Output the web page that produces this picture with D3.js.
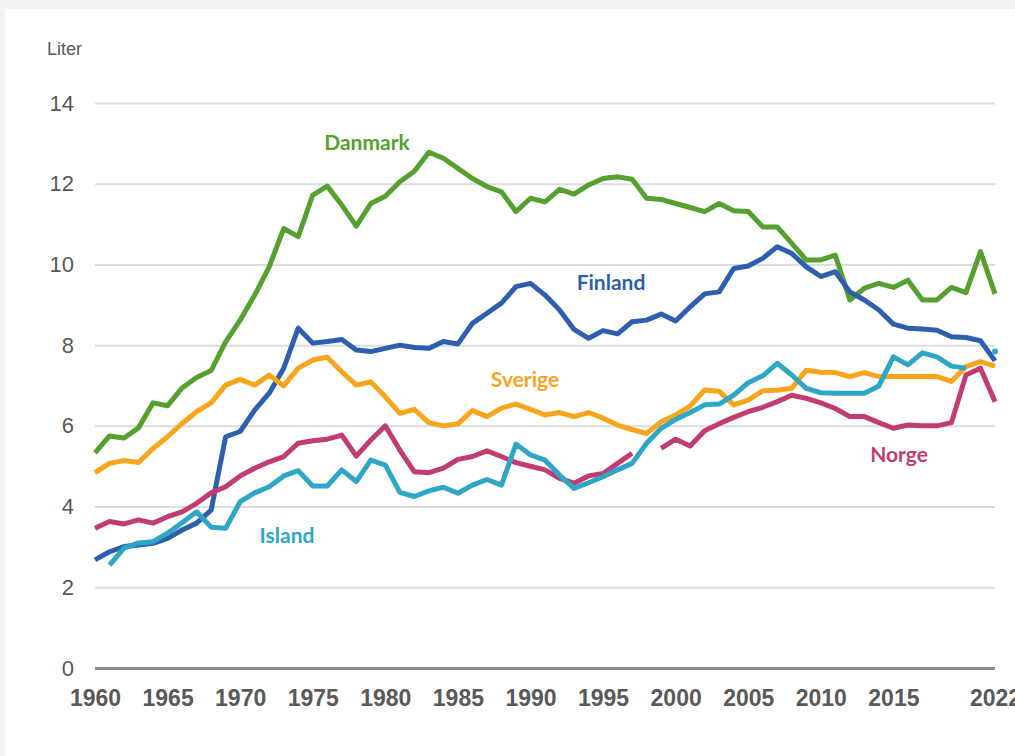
<!DOCTYPE html>
<html>
<head>
<meta charset="utf-8">
<script src="https://cdn.jsdelivr.net/npm/d3@7"></script>
<style>
  body { margin: 0; background: #f3f3f3; }
  svg { display: block; }
</style>
</head>
<body>
<svg id="chart"></svg>
<script>
var width = 1015;
var height = 756;
var margin = {top: 103, bottom: 88, left: 95, right: 20};

var years = d3.range(1960, 2023);
var xTicks = [1960, 1965, 1970, 1975, 1980, 1985, 1990, 1995, 2000, 2005, 2010, 2015, 2022];
var yTicks = [0, 2, 4, 6, 8, 10, 12, 14];

// Liter per year, 1960-2022 (null = no value)
var danmark = [5.33, 5.75, 5.7, 5.95, 6.57, 6.5, 6.94, 7.2, 7.37, 8.08, 8.62, 9.24, 9.94, 10.89, 10.69, 11.72, 11.94, 11.47, 10.95, 11.51,
  11.69, 12.05, 12.31, 12.78, 12.63, 12.38, 12.13, 11.93, 11.8, 11.31, 11.64, 11.55, 11.86, 11.74, 11.97, 12.13, 12.17, 12.11, 11.64, 11.61,
  11.51, 11.41, 11.31, 11.51, 11.33, 11.31, 10.93, 10.93, 10.52, 10.11, 10.11, 10.23, 9.12, 9.41, 9.53, 9.43, 9.61, 9.12, 9.12, 9.43,
  9.3, 10.32, 9.27];
var finland = [2.68, 2.88, 3.01, 3.05, 3.09, 3.21, 3.42, 3.59, 3.91, 5.73, 5.86, 6.39, 6.81, 7.43, 8.42, 8.05, 8.09, 8.14, 7.88, 7.84,
  7.92, 8.0, 7.94, 7.92, 8.09, 8.03, 8.54, 8.79, 9.04, 9.45, 9.53, 9.24, 8.87, 8.39, 8.17, 8.36, 8.28, 8.58, 8.62, 8.77,
  8.6, 8.95, 9.27, 9.32, 9.9, 9.96, 10.15, 10.44, 10.27, 9.94, 9.7, 9.82, 9.32, 9.12, 8.87, 8.52, 8.42, 8.4, 8.37, 8.21,
  8.19, 8.11, 7.61];
var sverige = [4.84, 5.07, 5.14, 5.09, 5.44, 5.73, 6.06, 6.35, 6.57, 7.01, 7.15, 7.01, 7.26, 6.99, 7.43, 7.63, 7.7, 7.34, 7.01, 7.09,
  6.72, 6.31, 6.41, 6.08, 6.0, 6.05, 6.38, 6.23, 6.44, 6.54, 6.41, 6.27, 6.33, 6.23, 6.33, 6.19, 6.02, 5.91, 5.81, 6.1,
  6.27, 6.49, 6.89, 6.86, 6.52, 6.64, 6.87, 6.88, 6.93, 7.38, 7.33, 7.32, 7.22, 7.32, 7.22, 7.22, 7.22, 7.22, 7.22, 7.1,
  7.47, 7.59, 7.48];
var norge = [3.46, 3.63, 3.57, 3.67, 3.59, 3.75, 3.87, 4.08, 4.34, 4.49, 4.76, 4.95, 5.11, 5.24, 5.57, 5.63, 5.67, 5.77, 5.25, 5.65,
  6.0, 5.4, 4.86, 4.84, 4.95, 5.17, 5.24, 5.38, 5.24, 5.09, 5.0, 4.91, 4.7, 4.58, 4.76, 4.82, 5.07, 5.32, null, 5.44,
  5.67, 5.5, 5.88, 6.05, 6.21, 6.35, 6.46, 6.6, 6.76, 6.68, 6.57, 6.43, 6.23, 6.23, 6.08, 5.94, 6.02, 6.0, 6.0, 6.08,
  7.26, 7.43, 6.6];
var island = [null, 2.55, 2.97, 3.1, 3.13, 3.34, 3.6, 3.87, 3.49, 3.46, 4.12, 4.34, 4.49, 4.76, 4.89, 4.51, 4.51, 4.91, 4.62, 5.15,
  5.03, 4.35, 4.25, 4.39, 4.48, 4.33, 4.53, 4.67, 4.53, 5.55, 5.28, 5.15, 4.78, 4.45, 4.59, 4.74, 4.91, 5.07, 5.57, 5.94,
  6.16, 6.33, 6.52, 6.54, 6.76, 7.07, 7.24, 7.55, 7.26, 6.93, 6.82, 6.81, 6.81, 6.81, 6.99, 7.71, 7.51, 7.81, 7.71, 7.48,
  7.43, null, 7.84];

var series = [
  {name: "Danmark", values: danmark, color: "#55a02e", label: [367, 143]},
  {name: "Finland", values: finland, color: "#2e5fae", label: [611, 283]},
  {name: "Sverige", values: sverige, color: "#f8a51c", label: [525, 380]},
  {name: "Norge", values: norge, color: "#c03c72", label: [899, 455]},
  {name: "Island", values: island, color: "#2ea6c6", label: [287, 536]}
];

var svg = d3.select("#chart")
  .attr("width", width)
  .attr("height", height);

// white panel
svg.append("rect")
  .attr("x", 5).attr("y", 9)
  .attr("width", width - 5).attr("height", height - 9)
  .attr("fill", "#ffffff");

var xScale = d3.scaleLinear().domain([1960, 2022]).range([margin.left, width - margin.right]);
var yScale = d3.scaleLinear().domain([0, 14]).range([height - margin.bottom, margin.top]);

var fontAxis = "'Liberation Sans', Arial, sans-serif";

// gridlines + y labels
var yAxis = d3.axisLeft(yScale)
  .tickValues(yTicks)
  .tickSize(-(width - margin.left - margin.right))
  .tickPadding(21)
  .tickFormat(d3.format("d"));

var gy = svg.append("g")
  .attr("transform", "translate(" + [margin.left, 0] + ")")
  .call(yAxis);
gy.select(".domain").remove();
gy.selectAll(".tick line")
  .attr("stroke", function(d){ return d === 0 ? "#8a8a8a" : "#dcdde0"; })
  .attr("stroke-width", function(d){ return d === 0 ? 3 : 2; });
gy.selectAll(".tick text")
  .attr("fill", "#595959")
  .style("font-family", fontAxis)
  .style("font-size", "22px");

// x labels
var xAxis = d3.axisBottom(xScale)
  .tickValues(xTicks)
  .tickSize(0)
  .tickPadding(22)
  .tickFormat(d3.format("d"));

var gx = svg.append("g")
  .attr("transform", "translate(" + [0, height - margin.bottom] + ")")
  .call(xAxis);
gx.select(".domain").remove();
gx.selectAll(".tick text")
  .attr("fill", "#595959")
  .style("font-family", fontAxis)
  .style("font-weight", "bold")
  .style("font-size", "23px");

svg.append("text")
  .attr("x", 47).attr("y", 55)
  .attr("fill", "#595959")
  .style("font-family", fontAxis)
  .style("font-size", "18px")
  .text("Liter");

// lines
var line = d3.line()
  .defined(function(d){ return d != null; })
  .x(function(d, i){ return xScale(years[i]); })
  .y(function(d){ return yScale(d); });

series.forEach(function(s){
  svg.append("path")
    .attr("d", line(s.values))
    .attr("fill", "none")
    .attr("stroke", s.color)
    .attr("stroke-width", 5)
    .attr("stroke-linejoin", "round");

  // isolated points (no neighbours) drawn as dots
  s.values.forEach(function(v, i){
    if (v == null) return;
    var prev = i > 0 ? s.values[i - 1] : null;
    var next = i < s.values.length - 1 ? s.values[i + 1] : null;
    if (prev == null && next == null) {
      svg.append("circle")
        .attr("cx", xScale(years[i]))
        .attr("cy", yScale(v))
        .attr("r", 3)
        .attr("fill", s.color);
    }
  });

  svg.append("text")
    .attr("x", s.label[0]).attr("y", s.label[1])
    .attr("text-anchor", "middle")
    .attr("dy", "0.35em")
    .attr("fill", s.color)
    .style("font-family", "Lato, 'Open Sans', sans-serif")
    .style("font-weight", "bold")
    .style("font-size", "21px")
    .text(s.name);
});
</script>
</body>
</html>
